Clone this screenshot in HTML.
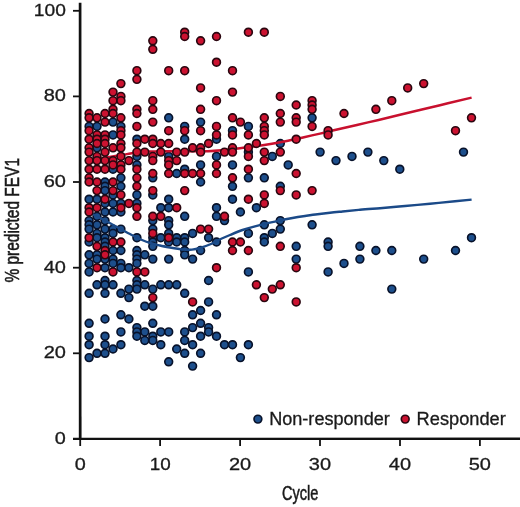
<!DOCTYPE html>
<html><head><meta charset="utf-8"><title>FEV1 by cycle</title>
<style>
html,body{margin:0;padding:0;background:#fff}
svg{display:block}
text{font-family:"Liberation Sans",sans-serif;fill:#1a1a1a}
</style></head><body>
<svg width="520" height="507" viewBox="0 0 520 507">
<rect width="520" height="507" fill="#fff"/>
<g stroke="#08122a" stroke-width="1.65" fill="#1d4f8c">
<circle cx="168.7" cy="117.8" r="3.9"/>
<circle cx="312.1" cy="117.8" r="3.9"/>
<circle cx="113.0" cy="122.1" r="3.9"/>
<circle cx="200.6" cy="122.1" r="3.9"/>
<circle cx="89.1" cy="126.4" r="3.9"/>
<circle cx="97.0" cy="126.4" r="3.9"/>
<circle cx="120.9" cy="126.4" r="3.9"/>
<circle cx="184.7" cy="126.4" r="3.9"/>
<circle cx="248.4" cy="126.4" r="3.9"/>
<circle cx="232.5" cy="130.7" r="3.9"/>
<circle cx="113.0" cy="134.9" r="3.9"/>
<circle cx="136.9" cy="139.2" r="3.9"/>
<circle cx="184.7" cy="139.2" r="3.9"/>
<circle cx="216.5" cy="139.2" r="3.9"/>
<circle cx="280.3" cy="143.5" r="3.9"/>
<circle cx="97.0" cy="147.8" r="3.9"/>
<circle cx="248.4" cy="152.1" r="3.9"/>
<circle cx="320.1" cy="152.1" r="3.9"/>
<circle cx="367.9" cy="152.1" r="3.9"/>
<circle cx="463.5" cy="152.1" r="3.9"/>
<circle cx="136.9" cy="156.4" r="3.9"/>
<circle cx="168.7" cy="156.4" r="3.9"/>
<circle cx="216.5" cy="156.4" r="3.9"/>
<circle cx="272.3" cy="156.4" r="3.9"/>
<circle cx="352.0" cy="156.4" r="3.9"/>
<circle cx="336.0" cy="160.6" r="3.9"/>
<circle cx="383.8" cy="160.6" r="3.9"/>
<circle cx="136.9" cy="164.9" r="3.9"/>
<circle cx="200.6" cy="164.9" r="3.9"/>
<circle cx="232.5" cy="164.9" r="3.9"/>
<circle cx="288.2" cy="164.9" r="3.9"/>
<circle cx="113.0" cy="169.2" r="3.9"/>
<circle cx="184.7" cy="169.2" r="3.9"/>
<circle cx="399.8" cy="169.2" r="3.9"/>
<circle cx="176.7" cy="173.5" r="3.9"/>
<circle cx="120.9" cy="177.8" r="3.9"/>
<circle cx="152.8" cy="177.8" r="3.9"/>
<circle cx="248.4" cy="177.8" r="3.9"/>
<circle cx="264.3" cy="177.8" r="3.9"/>
<circle cx="105.0" cy="182.0" r="3.9"/>
<circle cx="200.6" cy="182.0" r="3.9"/>
<circle cx="105.0" cy="186.3" r="3.9"/>
<circle cx="120.9" cy="186.3" r="3.9"/>
<circle cx="232.5" cy="186.3" r="3.9"/>
<circle cx="280.3" cy="186.3" r="3.9"/>
<circle cx="105.0" cy="190.6" r="3.9"/>
<circle cx="113.0" cy="194.9" r="3.9"/>
<circle cx="136.9" cy="194.9" r="3.9"/>
<circle cx="152.8" cy="194.9" r="3.9"/>
<circle cx="89.1" cy="199.2" r="3.9"/>
<circle cx="97.0" cy="199.2" r="3.9"/>
<circle cx="168.7" cy="199.2" r="3.9"/>
<circle cx="232.5" cy="199.2" r="3.9"/>
<circle cx="105.0" cy="203.4" r="3.9"/>
<circle cx="113.0" cy="203.4" r="3.9"/>
<circle cx="120.9" cy="203.4" r="3.9"/>
<circle cx="136.9" cy="203.4" r="3.9"/>
<circle cx="160.8" cy="207.7" r="3.9"/>
<circle cx="168.7" cy="207.7" r="3.9"/>
<circle cx="216.5" cy="207.7" r="3.9"/>
<circle cx="256.4" cy="207.7" r="3.9"/>
<circle cx="105.0" cy="212.0" r="3.9"/>
<circle cx="113.0" cy="212.0" r="3.9"/>
<circle cx="120.9" cy="212.0" r="3.9"/>
<circle cx="240.4" cy="212.0" r="3.9"/>
<circle cx="97.0" cy="216.3" r="3.9"/>
<circle cx="184.7" cy="216.3" r="3.9"/>
<circle cx="216.5" cy="216.3" r="3.9"/>
<circle cx="89.1" cy="220.6" r="3.9"/>
<circle cx="105.0" cy="220.6" r="3.9"/>
<circle cx="152.8" cy="220.6" r="3.9"/>
<circle cx="168.7" cy="220.6" r="3.9"/>
<circle cx="224.5" cy="220.6" r="3.9"/>
<circle cx="280.3" cy="220.6" r="3.9"/>
<circle cx="89.1" cy="224.8" r="3.9"/>
<circle cx="97.0" cy="224.8" r="3.9"/>
<circle cx="168.7" cy="224.8" r="3.9"/>
<circle cx="264.3" cy="224.8" r="3.9"/>
<circle cx="312.1" cy="224.8" r="3.9"/>
<circle cx="89.1" cy="229.1" r="3.9"/>
<circle cx="105.0" cy="229.1" r="3.9"/>
<circle cx="113.0" cy="229.1" r="3.9"/>
<circle cx="120.9" cy="229.1" r="3.9"/>
<circle cx="152.8" cy="229.1" r="3.9"/>
<circle cx="280.3" cy="229.1" r="3.9"/>
<circle cx="97.0" cy="233.4" r="3.9"/>
<circle cx="113.0" cy="233.4" r="3.9"/>
<circle cx="168.7" cy="233.4" r="3.9"/>
<circle cx="192.6" cy="233.4" r="3.9"/>
<circle cx="248.4" cy="233.4" r="3.9"/>
<circle cx="272.3" cy="233.4" r="3.9"/>
<circle cx="97.0" cy="237.7" r="3.9"/>
<circle cx="105.0" cy="237.7" r="3.9"/>
<circle cx="136.9" cy="237.7" r="3.9"/>
<circle cx="152.8" cy="237.7" r="3.9"/>
<circle cx="160.8" cy="237.7" r="3.9"/>
<circle cx="176.7" cy="237.7" r="3.9"/>
<circle cx="184.7" cy="237.7" r="3.9"/>
<circle cx="208.6" cy="237.7" r="3.9"/>
<circle cx="264.3" cy="237.7" r="3.9"/>
<circle cx="471.5" cy="237.7" r="3.9"/>
<circle cx="89.1" cy="242.0" r="3.9"/>
<circle cx="105.0" cy="242.0" r="3.9"/>
<circle cx="152.8" cy="242.0" r="3.9"/>
<circle cx="168.7" cy="242.0" r="3.9"/>
<circle cx="176.7" cy="242.0" r="3.9"/>
<circle cx="184.7" cy="242.0" r="3.9"/>
<circle cx="216.5" cy="242.0" r="3.9"/>
<circle cx="264.3" cy="242.0" r="3.9"/>
<circle cx="328.1" cy="242.0" r="3.9"/>
<circle cx="105.0" cy="246.3" r="3.9"/>
<circle cx="152.8" cy="246.3" r="3.9"/>
<circle cx="296.2" cy="246.3" r="3.9"/>
<circle cx="328.1" cy="246.3" r="3.9"/>
<circle cx="359.9" cy="246.3" r="3.9"/>
<circle cx="113.0" cy="250.5" r="3.9"/>
<circle cx="120.9" cy="250.5" r="3.9"/>
<circle cx="136.9" cy="250.5" r="3.9"/>
<circle cx="184.7" cy="250.5" r="3.9"/>
<circle cx="200.6" cy="250.5" r="3.9"/>
<circle cx="375.9" cy="250.5" r="3.9"/>
<circle cx="391.8" cy="250.5" r="3.9"/>
<circle cx="455.5" cy="250.5" r="3.9"/>
<circle cx="89.1" cy="254.8" r="3.9"/>
<circle cx="97.0" cy="254.8" r="3.9"/>
<circle cx="136.9" cy="254.8" r="3.9"/>
<circle cx="144.8" cy="254.8" r="3.9"/>
<circle cx="184.7" cy="254.8" r="3.9"/>
<circle cx="97.0" cy="259.1" r="3.9"/>
<circle cx="105.0" cy="259.1" r="3.9"/>
<circle cx="113.0" cy="259.1" r="3.9"/>
<circle cx="136.9" cy="259.1" r="3.9"/>
<circle cx="152.8" cy="259.1" r="3.9"/>
<circle cx="168.7" cy="259.1" r="3.9"/>
<circle cx="192.6" cy="259.1" r="3.9"/>
<circle cx="296.2" cy="259.1" r="3.9"/>
<circle cx="359.9" cy="259.1" r="3.9"/>
<circle cx="423.7" cy="259.1" r="3.9"/>
<circle cx="89.1" cy="263.4" r="3.9"/>
<circle cx="113.0" cy="263.4" r="3.9"/>
<circle cx="120.9" cy="263.4" r="3.9"/>
<circle cx="136.9" cy="263.4" r="3.9"/>
<circle cx="344.0" cy="263.4" r="3.9"/>
<circle cx="105.0" cy="267.7" r="3.9"/>
<circle cx="120.9" cy="267.7" r="3.9"/>
<circle cx="128.9" cy="267.7" r="3.9"/>
<circle cx="89.1" cy="271.9" r="3.9"/>
<circle cx="248.4" cy="271.9" r="3.9"/>
<circle cx="328.1" cy="271.9" r="3.9"/>
<circle cx="105.0" cy="280.5" r="3.9"/>
<circle cx="136.9" cy="280.5" r="3.9"/>
<circle cx="208.6" cy="280.5" r="3.9"/>
<circle cx="97.0" cy="284.8" r="3.9"/>
<circle cx="105.0" cy="284.8" r="3.9"/>
<circle cx="113.0" cy="284.8" r="3.9"/>
<circle cx="136.9" cy="284.8" r="3.9"/>
<circle cx="144.8" cy="284.8" r="3.9"/>
<circle cx="160.8" cy="284.8" r="3.9"/>
<circle cx="168.7" cy="284.8" r="3.9"/>
<circle cx="176.7" cy="284.8" r="3.9"/>
<circle cx="128.9" cy="289.1" r="3.9"/>
<circle cx="136.9" cy="289.1" r="3.9"/>
<circle cx="152.8" cy="289.1" r="3.9"/>
<circle cx="391.8" cy="289.1" r="3.9"/>
<circle cx="89.1" cy="293.3" r="3.9"/>
<circle cx="105.0" cy="293.3" r="3.9"/>
<circle cx="120.9" cy="293.3" r="3.9"/>
<circle cx="184.7" cy="293.3" r="3.9"/>
<circle cx="128.9" cy="297.6" r="3.9"/>
<circle cx="208.6" cy="301.9" r="3.9"/>
<circle cx="144.8" cy="306.2" r="3.9"/>
<circle cx="152.8" cy="306.2" r="3.9"/>
<circle cx="200.6" cy="310.5" r="3.9"/>
<circle cx="120.9" cy="314.8" r="3.9"/>
<circle cx="192.6" cy="314.8" r="3.9"/>
<circle cx="216.5" cy="314.8" r="3.9"/>
<circle cx="105.0" cy="319.0" r="3.9"/>
<circle cx="128.9" cy="319.0" r="3.9"/>
<circle cx="89.1" cy="323.3" r="3.9"/>
<circle cx="152.8" cy="323.3" r="3.9"/>
<circle cx="200.6" cy="323.3" r="3.9"/>
<circle cx="136.9" cy="327.6" r="3.9"/>
<circle cx="192.6" cy="327.6" r="3.9"/>
<circle cx="208.6" cy="327.6" r="3.9"/>
<circle cx="120.9" cy="331.9" r="3.9"/>
<circle cx="136.9" cy="331.9" r="3.9"/>
<circle cx="144.8" cy="331.9" r="3.9"/>
<circle cx="160.8" cy="331.9" r="3.9"/>
<circle cx="168.7" cy="331.9" r="3.9"/>
<circle cx="184.7" cy="331.9" r="3.9"/>
<circle cx="208.6" cy="331.9" r="3.9"/>
<circle cx="89.1" cy="336.2" r="3.9"/>
<circle cx="105.0" cy="336.2" r="3.9"/>
<circle cx="136.9" cy="336.2" r="3.9"/>
<circle cx="152.8" cy="336.2" r="3.9"/>
<circle cx="200.6" cy="336.2" r="3.9"/>
<circle cx="216.5" cy="336.2" r="3.9"/>
<circle cx="144.8" cy="340.4" r="3.9"/>
<circle cx="152.8" cy="340.4" r="3.9"/>
<circle cx="184.7" cy="340.4" r="3.9"/>
<circle cx="89.1" cy="344.7" r="3.9"/>
<circle cx="105.0" cy="344.7" r="3.9"/>
<circle cx="120.9" cy="344.7" r="3.9"/>
<circle cx="160.8" cy="344.7" r="3.9"/>
<circle cx="192.6" cy="344.7" r="3.9"/>
<circle cx="224.5" cy="344.7" r="3.9"/>
<circle cx="232.5" cy="344.7" r="3.9"/>
<circle cx="248.4" cy="344.7" r="3.9"/>
<circle cx="113.0" cy="349.0" r="3.9"/>
<circle cx="176.7" cy="349.0" r="3.9"/>
<circle cx="97.0" cy="353.3" r="3.9"/>
<circle cx="105.0" cy="353.3" r="3.9"/>
<circle cx="184.7" cy="353.3" r="3.9"/>
<circle cx="200.6" cy="353.3" r="3.9"/>
<circle cx="89.1" cy="357.6" r="3.9"/>
<circle cx="240.4" cy="357.6" r="3.9"/>
<circle cx="168.7" cy="361.8" r="3.9"/>
<circle cx="192.6" cy="366.1" r="3.9"/>
</g>
<path d="M89.1 212.3 C91.8 213.7 98.2 216.9 105.0 220.5 C111.8 224.1 123.8 230.8 130.0 234.0 C136.2 237.2 138.3 238.4 142.0 240.0 C145.7 241.6 149.0 242.6 152.0 243.5 C155.0 244.4 157.0 244.8 160.0 245.5 C163.0 246.2 166.2 246.8 170.0 247.5 C173.8 248.2 179.3 249.2 183.0 249.6 C186.7 249.9 189.2 249.9 192.0 249.6 C194.8 249.3 196.8 248.9 200.0 248.0 C203.2 247.1 208.1 245.2 211.0 244.0 C213.9 242.8 214.3 242.0 217.5 240.5 C220.7 239.0 225.8 236.8 230.0 235.0 C234.2 233.2 238.3 231.4 242.5 230.0 C246.7 228.6 250.8 227.4 255.0 226.3 C259.2 225.2 263.3 224.2 267.5 223.2 C271.7 222.2 275.8 221.4 280.0 220.5 C284.2 219.6 288.3 218.8 292.5 218.0 C296.7 217.2 300.8 216.6 305.0 216.0 C309.2 215.4 313.3 214.8 317.5 214.3 C321.7 213.8 325.8 213.3 330.0 212.8 C334.2 212.3 337.5 212.0 342.5 211.5 C347.5 211.0 353.8 210.4 360.0 209.8 C366.2 209.2 372.5 208.8 380.0 208.2 C387.5 207.6 396.7 206.8 405.0 206.0 C413.3 205.2 421.7 204.5 430.0 203.7 C438.3 202.9 448.1 202.0 455.0 201.3 C461.9 200.6 468.8 199.9 471.6 199.6" fill="none" stroke="#1b4a88" stroke-width="2.4"/>
<path d="M89.1 160.3 C91.8 159.9 99.8 158.6 105.0 157.8 C110.2 157.0 114.8 156.1 120.0 155.3 C125.2 154.5 131.0 153.4 136.0 152.8 C141.0 152.2 145.2 151.9 150.0 151.6 C154.8 151.3 159.2 151.3 165.0 151.2 C170.8 151.1 177.8 151.2 185.0 151.2 C192.2 151.2 201.5 151.4 208.0 151.2 C214.5 151.0 218.7 150.5 224.0 150.0 C229.3 149.5 234.7 148.8 240.0 148.2 C245.3 147.6 250.7 146.9 256.0 146.2 C261.3 145.5 266.7 144.7 272.0 143.8 C277.3 142.9 282.7 141.9 288.0 140.8 C293.3 139.7 298.7 138.4 304.0 137.2 C309.3 136.0 314.7 134.8 320.0 133.6 C325.3 132.4 328.0 131.7 336.0 129.8 C344.0 127.9 357.3 124.9 368.0 122.4 C378.7 119.9 388.0 117.7 400.0 114.8 C412.0 111.9 428.1 108.1 440.0 105.2 C451.9 102.3 466.3 98.9 471.6 97.6" fill="none" stroke="#c8102e" stroke-width="2.5"/>
<g stroke="#2a0710" stroke-width="1.65" fill="#cc1230">
<circle cx="184.7" cy="32.2" r="3.9"/>
<circle cx="248.4" cy="32.2" r="3.9"/>
<circle cx="264.3" cy="32.2" r="3.9"/>
<circle cx="184.7" cy="36.5" r="3.9"/>
<circle cx="216.5" cy="36.5" r="3.9"/>
<circle cx="152.8" cy="40.8" r="3.9"/>
<circle cx="200.6" cy="40.8" r="3.9"/>
<circle cx="152.8" cy="49.3" r="3.9"/>
<circle cx="216.5" cy="62.2" r="3.9"/>
<circle cx="136.9" cy="70.7" r="3.9"/>
<circle cx="168.7" cy="70.7" r="3.9"/>
<circle cx="184.7" cy="70.7" r="3.9"/>
<circle cx="232.5" cy="70.7" r="3.9"/>
<circle cx="136.9" cy="79.3" r="3.9"/>
<circle cx="120.9" cy="83.6" r="3.9"/>
<circle cx="423.7" cy="83.6" r="3.9"/>
<circle cx="200.6" cy="87.9" r="3.9"/>
<circle cx="407.7" cy="87.9" r="3.9"/>
<circle cx="113.0" cy="92.1" r="3.9"/>
<circle cx="232.5" cy="92.1" r="3.9"/>
<circle cx="120.9" cy="96.4" r="3.9"/>
<circle cx="280.3" cy="96.4" r="3.9"/>
<circle cx="113.0" cy="100.7" r="3.9"/>
<circle cx="120.9" cy="100.7" r="3.9"/>
<circle cx="152.8" cy="100.7" r="3.9"/>
<circle cx="216.5" cy="100.7" r="3.9"/>
<circle cx="312.1" cy="100.7" r="3.9"/>
<circle cx="391.8" cy="100.7" r="3.9"/>
<circle cx="296.2" cy="105.0" r="3.9"/>
<circle cx="312.1" cy="105.0" r="3.9"/>
<circle cx="113.0" cy="109.3" r="3.9"/>
<circle cx="136.9" cy="109.3" r="3.9"/>
<circle cx="152.8" cy="109.3" r="3.9"/>
<circle cx="200.6" cy="109.3" r="3.9"/>
<circle cx="312.1" cy="109.3" r="3.9"/>
<circle cx="375.9" cy="109.3" r="3.9"/>
<circle cx="89.1" cy="113.5" r="3.9"/>
<circle cx="105.0" cy="113.5" r="3.9"/>
<circle cx="113.0" cy="113.5" r="3.9"/>
<circle cx="136.9" cy="113.5" r="3.9"/>
<circle cx="280.3" cy="113.5" r="3.9"/>
<circle cx="344.0" cy="113.5" r="3.9"/>
<circle cx="89.1" cy="117.8" r="3.9"/>
<circle cx="97.0" cy="117.8" r="3.9"/>
<circle cx="120.9" cy="117.8" r="3.9"/>
<circle cx="232.5" cy="117.8" r="3.9"/>
<circle cx="264.3" cy="117.8" r="3.9"/>
<circle cx="296.2" cy="117.8" r="3.9"/>
<circle cx="471.5" cy="117.8" r="3.9"/>
<circle cx="105.0" cy="122.1" r="3.9"/>
<circle cx="152.8" cy="122.1" r="3.9"/>
<circle cx="240.4" cy="122.1" r="3.9"/>
<circle cx="280.3" cy="122.1" r="3.9"/>
<circle cx="296.2" cy="122.1" r="3.9"/>
<circle cx="136.9" cy="126.4" r="3.9"/>
<circle cx="216.5" cy="126.4" r="3.9"/>
<circle cx="264.3" cy="126.4" r="3.9"/>
<circle cx="312.1" cy="126.4" r="3.9"/>
<circle cx="89.1" cy="130.7" r="3.9"/>
<circle cx="120.9" cy="130.7" r="3.9"/>
<circle cx="168.7" cy="130.7" r="3.9"/>
<circle cx="184.7" cy="130.7" r="3.9"/>
<circle cx="200.6" cy="130.7" r="3.9"/>
<circle cx="264.3" cy="130.7" r="3.9"/>
<circle cx="328.1" cy="130.7" r="3.9"/>
<circle cx="455.5" cy="130.7" r="3.9"/>
<circle cx="97.0" cy="134.9" r="3.9"/>
<circle cx="105.0" cy="134.9" r="3.9"/>
<circle cx="120.9" cy="134.9" r="3.9"/>
<circle cx="216.5" cy="134.9" r="3.9"/>
<circle cx="232.5" cy="134.9" r="3.9"/>
<circle cx="248.4" cy="134.9" r="3.9"/>
<circle cx="264.3" cy="134.9" r="3.9"/>
<circle cx="328.1" cy="134.9" r="3.9"/>
<circle cx="89.1" cy="139.2" r="3.9"/>
<circle cx="97.0" cy="139.2" r="3.9"/>
<circle cx="105.0" cy="139.2" r="3.9"/>
<circle cx="144.8" cy="139.2" r="3.9"/>
<circle cx="152.8" cy="139.2" r="3.9"/>
<circle cx="296.2" cy="139.2" r="3.9"/>
<circle cx="97.0" cy="143.5" r="3.9"/>
<circle cx="105.0" cy="143.5" r="3.9"/>
<circle cx="120.9" cy="143.5" r="3.9"/>
<circle cx="136.9" cy="143.5" r="3.9"/>
<circle cx="152.8" cy="143.5" r="3.9"/>
<circle cx="160.8" cy="143.5" r="3.9"/>
<circle cx="168.7" cy="143.5" r="3.9"/>
<circle cx="208.6" cy="143.5" r="3.9"/>
<circle cx="256.4" cy="143.5" r="3.9"/>
<circle cx="89.1" cy="147.8" r="3.9"/>
<circle cx="113.0" cy="147.8" r="3.9"/>
<circle cx="120.9" cy="147.8" r="3.9"/>
<circle cx="192.6" cy="147.8" r="3.9"/>
<circle cx="200.6" cy="147.8" r="3.9"/>
<circle cx="232.5" cy="147.8" r="3.9"/>
<circle cx="248.4" cy="147.8" r="3.9"/>
<circle cx="89.1" cy="152.1" r="3.9"/>
<circle cx="105.0" cy="152.1" r="3.9"/>
<circle cx="136.9" cy="152.1" r="3.9"/>
<circle cx="144.8" cy="152.1" r="3.9"/>
<circle cx="160.8" cy="152.1" r="3.9"/>
<circle cx="176.7" cy="152.1" r="3.9"/>
<circle cx="184.7" cy="152.1" r="3.9"/>
<circle cx="200.6" cy="152.1" r="3.9"/>
<circle cx="224.5" cy="152.1" r="3.9"/>
<circle cx="232.5" cy="152.1" r="3.9"/>
<circle cx="264.3" cy="152.1" r="3.9"/>
<circle cx="280.3" cy="152.1" r="3.9"/>
<circle cx="97.0" cy="156.4" r="3.9"/>
<circle cx="120.9" cy="156.4" r="3.9"/>
<circle cx="152.8" cy="156.4" r="3.9"/>
<circle cx="248.4" cy="156.4" r="3.9"/>
<circle cx="89.1" cy="160.6" r="3.9"/>
<circle cx="97.0" cy="160.6" r="3.9"/>
<circle cx="105.0" cy="160.6" r="3.9"/>
<circle cx="113.0" cy="160.6" r="3.9"/>
<circle cx="128.9" cy="160.6" r="3.9"/>
<circle cx="152.8" cy="160.6" r="3.9"/>
<circle cx="168.7" cy="160.6" r="3.9"/>
<circle cx="176.7" cy="160.6" r="3.9"/>
<circle cx="264.3" cy="160.6" r="3.9"/>
<circle cx="113.0" cy="164.9" r="3.9"/>
<circle cx="120.9" cy="164.9" r="3.9"/>
<circle cx="168.7" cy="164.9" r="3.9"/>
<circle cx="216.5" cy="164.9" r="3.9"/>
<circle cx="89.1" cy="169.2" r="3.9"/>
<circle cx="97.0" cy="169.2" r="3.9"/>
<circle cx="105.0" cy="169.2" r="3.9"/>
<circle cx="120.9" cy="169.2" r="3.9"/>
<circle cx="136.9" cy="169.2" r="3.9"/>
<circle cx="248.4" cy="169.2" r="3.9"/>
<circle cx="152.8" cy="173.5" r="3.9"/>
<circle cx="168.7" cy="173.5" r="3.9"/>
<circle cx="184.7" cy="173.5" r="3.9"/>
<circle cx="192.6" cy="173.5" r="3.9"/>
<circle cx="200.6" cy="173.5" r="3.9"/>
<circle cx="216.5" cy="173.5" r="3.9"/>
<circle cx="296.2" cy="173.5" r="3.9"/>
<circle cx="89.1" cy="177.8" r="3.9"/>
<circle cx="136.9" cy="177.8" r="3.9"/>
<circle cx="232.5" cy="177.8" r="3.9"/>
<circle cx="89.1" cy="182.0" r="3.9"/>
<circle cx="97.0" cy="182.0" r="3.9"/>
<circle cx="113.0" cy="182.0" r="3.9"/>
<circle cx="136.9" cy="186.3" r="3.9"/>
<circle cx="97.0" cy="190.6" r="3.9"/>
<circle cx="113.0" cy="190.6" r="3.9"/>
<circle cx="152.8" cy="190.6" r="3.9"/>
<circle cx="184.7" cy="190.6" r="3.9"/>
<circle cx="280.3" cy="190.6" r="3.9"/>
<circle cx="312.1" cy="190.6" r="3.9"/>
<circle cx="120.9" cy="194.9" r="3.9"/>
<circle cx="264.3" cy="194.9" r="3.9"/>
<circle cx="296.2" cy="194.9" r="3.9"/>
<circle cx="105.0" cy="199.2" r="3.9"/>
<circle cx="248.4" cy="199.2" r="3.9"/>
<circle cx="128.9" cy="203.4" r="3.9"/>
<circle cx="264.3" cy="203.4" r="3.9"/>
<circle cx="89.1" cy="207.7" r="3.9"/>
<circle cx="97.0" cy="207.7" r="3.9"/>
<circle cx="120.9" cy="207.7" r="3.9"/>
<circle cx="136.9" cy="207.7" r="3.9"/>
<circle cx="176.7" cy="207.7" r="3.9"/>
<circle cx="89.1" cy="212.0" r="3.9"/>
<circle cx="136.9" cy="216.3" r="3.9"/>
<circle cx="152.8" cy="216.3" r="3.9"/>
<circle cx="160.8" cy="216.3" r="3.9"/>
<circle cx="224.5" cy="216.3" r="3.9"/>
<circle cx="200.6" cy="229.1" r="3.9"/>
<circle cx="208.6" cy="229.1" r="3.9"/>
<circle cx="152.8" cy="233.4" r="3.9"/>
<circle cx="89.1" cy="237.7" r="3.9"/>
<circle cx="168.7" cy="237.7" r="3.9"/>
<circle cx="113.0" cy="242.0" r="3.9"/>
<circle cx="120.9" cy="242.0" r="3.9"/>
<circle cx="232.5" cy="242.0" r="3.9"/>
<circle cx="240.4" cy="242.0" r="3.9"/>
<circle cx="97.0" cy="246.3" r="3.9"/>
<circle cx="280.3" cy="246.3" r="3.9"/>
<circle cx="105.0" cy="250.5" r="3.9"/>
<circle cx="232.5" cy="250.5" r="3.9"/>
<circle cx="248.4" cy="250.5" r="3.9"/>
<circle cx="105.0" cy="254.8" r="3.9"/>
<circle cx="97.0" cy="267.7" r="3.9"/>
<circle cx="216.5" cy="267.7" r="3.9"/>
<circle cx="296.2" cy="267.7" r="3.9"/>
<circle cx="113.0" cy="271.9" r="3.9"/>
<circle cx="136.9" cy="271.9" r="3.9"/>
<circle cx="144.8" cy="271.9" r="3.9"/>
<circle cx="256.4" cy="284.8" r="3.9"/>
<circle cx="280.3" cy="284.8" r="3.9"/>
<circle cx="272.3" cy="289.1" r="3.9"/>
<circle cx="152.8" cy="297.6" r="3.9"/>
<circle cx="264.3" cy="297.6" r="3.9"/>
<circle cx="192.6" cy="301.9" r="3.9"/>
<circle cx="296.2" cy="301.9" r="3.9"/>
</g>
<g stroke="#111" stroke-width="1.8" fill="none">
<line x1="80.1" y1="2.8" x2="80.2" y2="440" stroke-width="2.7"/>
<line x1="73" y1="438.9" x2="520" y2="438.8" stroke-width="2.4"/>
<line x1="73" y1="438.9" x2="80" y2="438.9"/>
<line x1="73" y1="353.3" x2="80" y2="353.3"/>
<line x1="73" y1="267.7" x2="80" y2="267.7"/>
<line x1="73" y1="182.0" x2="80" y2="182.0"/>
<line x1="73" y1="96.4" x2="80" y2="96.4"/>
<line x1="73" y1="10.8" x2="80" y2="10.8"/>
<line x1="80.2" y1="439" x2="80.2" y2="446"/>
<line x1="160.1" y1="439" x2="160.1" y2="446"/>
<line x1="240.1" y1="439" x2="240.1" y2="446"/>
<line x1="320.0" y1="439" x2="320.0" y2="446"/>
<line x1="400.0" y1="439" x2="400.0" y2="446"/>
<line x1="479.9" y1="439" x2="479.9" y2="446"/>
</g>
<g font-size="16.7" stroke="#1a1a1a" stroke-width="0.3">
<text x="54.87" y="443.8" textLength="11.03" lengthAdjust="spacingAndGlyphs">0</text>
<text x="43.66" y="358.2" textLength="22.24" lengthAdjust="spacingAndGlyphs">20</text>
<text x="43.66" y="272.6" textLength="22.24" lengthAdjust="spacingAndGlyphs">40</text>
<text x="43.66" y="186.9" textLength="22.24" lengthAdjust="spacingAndGlyphs">60</text>
<text x="43.66" y="101.3" textLength="22.24" lengthAdjust="spacingAndGlyphs">80</text>
<text x="33.83" y="15.7" textLength="32.04" lengthAdjust="spacingAndGlyphs">100</text>
<text x="74.67" y="469.5" textLength="11.03" lengthAdjust="spacingAndGlyphs">0</text>
<text x="149.71" y="469.5" textLength="20.99" lengthAdjust="spacingAndGlyphs">10</text>
<text x="228.94" y="469.5" textLength="22.24" lengthAdjust="spacingAndGlyphs">20</text>
<text x="308.88" y="469.5" textLength="22.24" lengthAdjust="spacingAndGlyphs">30</text>
<text x="388.82" y="469.5" textLength="22.24" lengthAdjust="spacingAndGlyphs">40</text>
<text x="468.76" y="469.5" textLength="22.24" lengthAdjust="spacingAndGlyphs">50</text>
</g>
<circle cx="257.9" cy="419.1" r="3.9" fill="#1d4f8c" stroke="#08122a" stroke-width="1.65"/>
<text x="269.2" y="425" font-size="17.5" textLength="120.6" lengthAdjust="spacingAndGlyphs" stroke="#1a1a1a" stroke-width="0.3">Non-responder</text>
<circle cx="405.2" cy="419.1" r="3.9" fill="#cc1230" stroke="#2a0710" stroke-width="1.65"/>
<text x="416.6" y="425" font-size="17.5" textLength="89.2" lengthAdjust="spacingAndGlyphs" stroke="#1a1a1a" stroke-width="0.3">Responder</text>
<text x="282" y="500" font-size="19.6" textLength="36.3" lengthAdjust="spacingAndGlyphs" stroke="#1a1a1a" stroke-width="0.55">Cycle</text>
<text transform="translate(19.1,282.6) rotate(-90)" font-size="19.4" textLength="124.6" lengthAdjust="spacingAndGlyphs" stroke="#1a1a1a" stroke-width="0.55">% predicted FEV1</text>
</svg>
</body></html>
